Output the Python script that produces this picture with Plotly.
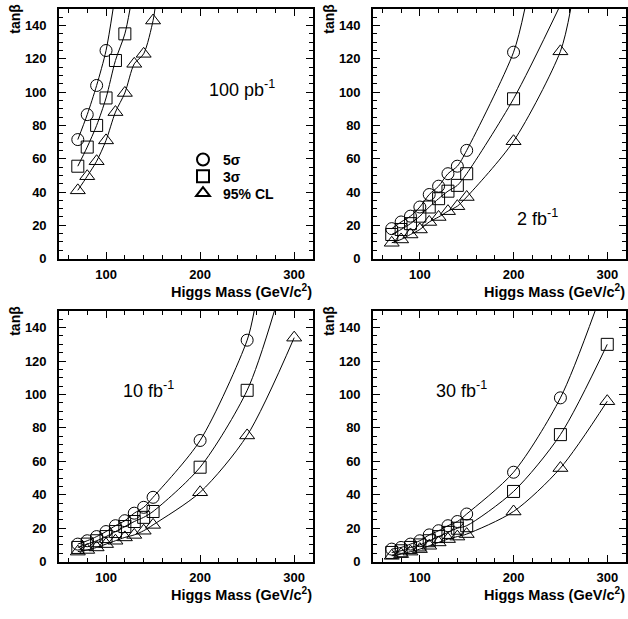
import plotly.graph_objects as go

W, H = 628, 619

# ---------------- data ----------------
mass_low = [70, 80, 90, 100, 110, 120, 130, 140, 150]
mass_all = [70, 80, 90, 100, 110, 120, 130, 140, 150, 200, 250, 300]

# Panel 1 : 100 pb^-1
p1_m5 = [70, 80, 90, 100]
p1_s5 = [71.5, 86.5, 104, 125]
p1_m3 = [70, 80, 90, 100, 110, 120]
p1_s3 = [55.5, 67, 80, 96.5, 119, 135]
p1_m95 = [70, 80, 90, 100, 110, 120, 130, 140, 150]
p1_s95 = [41, 49.5, 58.5, 71, 88, 99.5, 117, 123, 143]
p1_end = [107.5, 125.5, 152]          # mass where the curve leaves the top of the frame

# Panel 2 : 2 fb^-1
p2_m5 = mass_low + [200]
p2_s5 = [18, 22, 25.5, 31, 38.5, 43.5, 51, 55.5, 65, 124]
p2_m3 = mass_low + [200]
p2_s3 = [14.5, 17.5, 21, 25.5, 31, 36, 40.5, 44, 51, 96]
p2_m95 = mass_low + [200, 250]
p2_s95 = [9.5, 11.5, 14.5, 17.5, 22, 25, 28.5, 31.5, 37, 70.5, 124.5]
p2_end = [212, 248, 261]

# Panel 3 : 10 fb^-1
p3_m5 = mass_low + [200, 250]
p3_s5 = [10.5, 12.5, 15, 18, 21.5, 24.5, 29, 32.5, 38.5, 72.5, 132.5]
p3_m3 = mass_low + [200, 250]
p3_s3 = [8.5, 10.5, 12.5, 15, 18, 21, 24, 26.5, 30, 56.5, 102.5]
p3_m95 = mass_all
p3_s95 = [6, 7, 8.5, 10.5, 12.5, 14.5, 16, 18.5, 22, 41.5, 75.5, 134]
p3_end = [257.5, 279, None]

# Panel 4 : 30 fb^-1
p4_m5 = mass_low + [200, 250]
p4_s5 = [7.5, 8.5, 10.5, 12.5, 16, 18.5, 21.5, 24, 28.5, 53.5, 98]
p4_m3 = mass_all
p4_s3 = [5.5, 6.5, 8.5, 10, 12.5, 15, 17.5, 20, 21.5, 42, 76, 130]
p4_m95 = mass_all
p4_s95 = [3.5, 4.5, 6, 7.5, 9.5, 11.5, 13.5, 15, 16.5, 30, 56, 96]
p4_end = [287, None, None]

series_names = ["5σ", "3σ", "95% CL"]
symbols = ["circle-open", "square-open", "triangle-up-open"]
symbol_sizes = [12, 12, 13]
panel_labels = ["100 pb<sup>-1</sup>", "2 fb<sup>-1</sup>", "10 fb<sup>-1</sup>", "30 fb<sup>-1</sup>"]
x_range = [50, 320]
y_range = [0, 150]
x_ticks = [100, 200, 300]
y_ticks = [0, 20, 40, 60, 80, 100, 120, 140]

panels = [
    [(p1_m5, p1_s5), (p1_m3, p1_s3), (p1_m95, p1_s95), p1_end],
    [(p2_m5, p2_s5), (p2_m3, p2_s3), (p2_m95, p2_s95), p2_end],
    [(p3_m5, p3_s5), (p3_m3, p3_s3), (p3_m95, p3_s95), p3_end],
    [(p4_m5, p4_s5), (p4_m3, p4_s3), (p4_m95, p4_s95), p4_end],
]

# ---------------- layout geometry (pixels) ----------------
FONT = "Liberation Sans"
boxes = [(59, 9, 313, 262), (373, 9, 626, 262), (59, 315, 313, 569), (373, 315, 626, 569)]


def fx(px):
    return px / W


def fy(py):
    return 1 - py / H


fig = go.Figure()
layout = dict(
    width=W, height=H,
    margin=dict(l=0, r=0, t=0, b=0),
    paper_bgcolor="white", plot_bgcolor="white",
    showlegend=True,
    font=dict(family=FONT, color="black"),
)
legend_names = ["legend", "legend2", "legend3"]
legend_y = [162, 179, 196]
for ln, ly in zip(legend_names, legend_y):
    layout[ln] = dict(x=fx(183), y=fy(ly), xanchor="left", yanchor="middle",
                      bgcolor="rgba(0,0,0,0)", borderwidth=0,
                      font=dict(family=FONT, size=14, color="black", weight="bold"),
                      itemsizing="constant")
annotations = []

for i, (pan, box) in enumerate(zip(panels, boxes)):
    n = i + 1
    xa = "x" if n == 1 else f"x{n}"
    ya = "y" if n == 1 else f"y{n}"
    x0, y0, x1, y1 = box
    axis_common = dict(
        showgrid=False, zeroline=False, showline=True, linecolor="black", linewidth=1.6,
        mirror="allticks", ticks="inside", ticklen=7, tickwidth=1.2, tickcolor="black",
        tickfont=dict(family=FONT, size=13, color="black", weight="bold"),
    )
    layout[f"xaxis{'' if n == 1 else n}"] = dict(
        axis_common, domain=[fx(x0), fx(x1)], range=x_range, anchor=ya,
        tickmode="array", tickvals=x_ticks, ticklabelstandoff=3,
        minor=dict(dtick=20, tick0=0, ticks="inside", ticklen=4, tickcolor="black", tickwidth=1),
    )
    layout[f"yaxis{'' if n == 1 else n}"] = dict(
        axis_common, domain=[fy(y1), fy(y0)], range=y_range, anchor=xa,
        tickmode="array", tickvals=y_ticks, ticklabelstandoff=8,
        minor=dict(dtick=5, tick0=0, ticks="inside", ticklen=4, tickcolor="black", tickwidth=1),
    )
    ends = pan[3]
    for k in range(3):
        mx, sy = pan[k]
        lx, ly = list(mx), list(sy)
        if ends[k] is not None:
            lx.append(ends[k])
            ly.append(y_range[1])
        fig.add_trace(go.Scatter(
            x=lx, y=ly, mode="lines", xaxis=xa, yaxis=ya,
            line=dict(color="black", width=1, shape="spline", smoothing=0.8),
            showlegend=False, hoverinfo="skip",
        ))
        fig.add_trace(go.Scatter(
            x=mx, y=sy, mode="markers", xaxis=xa, yaxis=ya,
            marker=dict(symbol=symbols[k], size=symbol_sizes[k], color="black",
                        line=dict(width=1, color="black")),
            name=series_names[k], showlegend=(n == 1), legend=legend_names[k], cliponaxis=False,
        ))
    annotations.append(dict(
        text="tanβ", x=fx(x0 - 44), y=fy(y0 + 10), xref="paper", yref="paper",
        textangle=-90, showarrow=False, xanchor="center", yanchor="middle",
        font=dict(family=FONT, size=14, color="black", weight="bold"),
    ))
    annotations.append(dict(
        text="Higgs Mass (GeV/c<sup>2</sup>)", x=fx(x1 + 1), y=fy(y1 + 33), xref="paper", yref="paper",
        showarrow=False, xanchor="right", yanchor="middle",
        font=dict(family=FONT, size=14.5, color="black", weight="bold"),
    ))

label_pos = [(242, 90), (537, 220), (148, 395), (462, 395)]
for lab, (px, py) in zip(panel_labels, label_pos):
    annotations.append(dict(
        text=lab, x=fx(px), y=fy(py), xref="paper", yref="paper",
        showarrow=False, xanchor="center", yanchor="middle",
        font=dict(family=FONT, size=18, color="black"),
    ))

layout["annotations"] = annotations
fig.update_layout(**layout)
fig.write_html("out.html")
